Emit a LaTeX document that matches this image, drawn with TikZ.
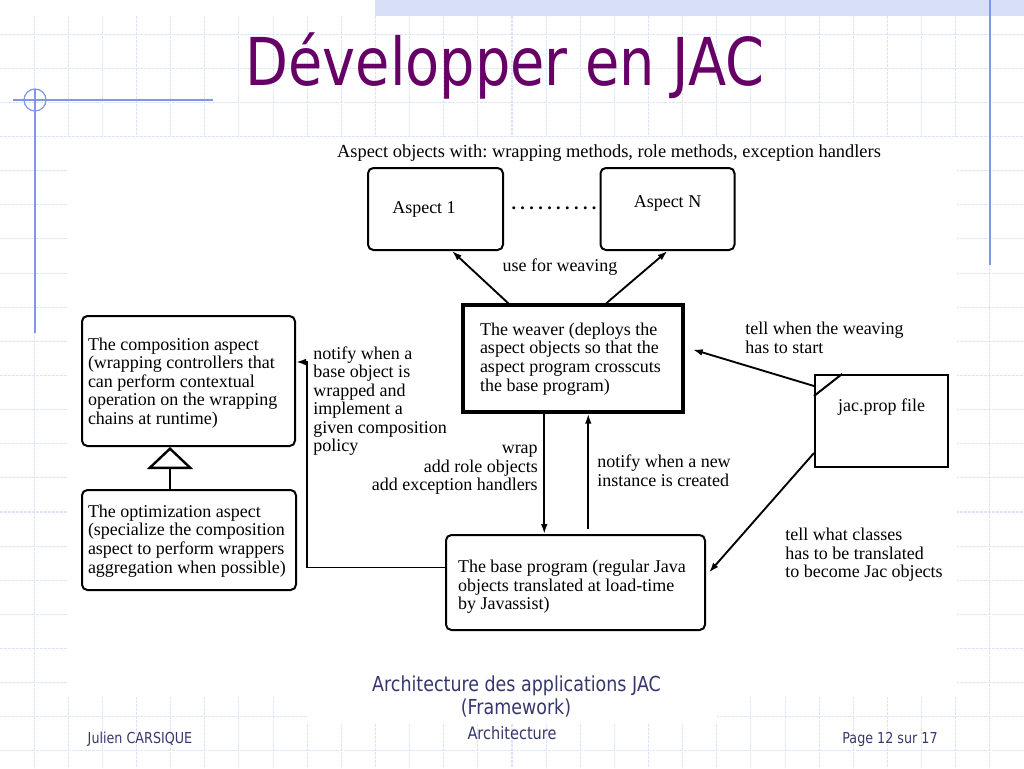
\documentclass[tikz,border=0pt]{standalone}
\usepackage{fontspec}
\setmainfont{Liberation Serif}
\newfontfamily\tahoma{DejaVu Sans}
\usetikzlibrary{arrows.meta,calc}
\definecolor{gridc}{RGB}{222,227,247}
\definecolor{bluel}{RGB}{130,150,232}
\definecolor{bandc}{RGB}{216,224,248}
\definecolor{titlec}{RGB}{102,0,102}
\definecolor{footc}{RGB}{55,55,110}
\newlength\pxu
\setlength\pxu{0.75pt}
\frenchspacing
\newcommand\tah[1]{{\tahoma\scalebox{0.845}[1]{#1}}}
\newcommand\lbox[2]{\makebox[#1][l]{\begin{tabular}{@{}l@{}}#2\end{tabular}}}
\newcommand\dropbox[2]{\raisebox{-#1}[\height][\depth]{#2}}
\newcommand\dotrow{.\kern4.4\pxu.\kern4.4\pxu.\kern4.4\pxu.\kern4.4\pxu.\kern4.4\pxu.\kern4.4\pxu.\kern4.4\pxu.\kern4.4\pxu.\kern4.4\pxu.}
\tikzset{
  dtext/.style={font=\fontsize{13.5}{13.9}\selectfont, inner sep=0pt, align=left},
  rbox/.style={draw, line width=1.5pt, rounded corners=4pt, inner sep=0pt, dtext},
  wbox/.style={draw, line width=2.6pt, inner sep=0pt, dtext},
  fbox/.style={draw, line width=1.5pt, inner sep=0pt, dtext},
  arr/.style={line width=1.4pt, -{Latex[length=7.5pt,width=5pt]}},
  gridline/.style={gridc, line width=0.8pt, dash pattern=on 2pt off 1pt},
  blueline/.style={bluel, line width=0.9pt},
  foot/.style={footc, inner sep=0pt, anchor=base},
}
\begin{document}
\begin{tikzpicture}[x=0.75pt,y=-0.75pt]
% background
\fill[white] (0,0) rectangle (1024,768);
\useasboundingbox (0,0) rectangle (1024,768);
\fill[bandc] (375,0) rectangle (1024,16);
\foreach \k in {1,...,29} \draw[gridline] ({\k*34.133},16) -- ({\k*34.133},768);
\foreach \k in {1,...,22} \draw[gridline] (0,{\k*34.133}) -- (1024,{\k*34.133});
\fill[white] (67,137) rectangle (957,697);
\fill[white] (307,645) rectangle (717,723);
\draw[blueline] (13,100) -- (213,100);
\draw[blueline] (35,89) -- (35,333);
\draw[blueline] (35,100) circle (11);
\draw[blueline] (990,0) -- (990,265);

% title
\node[titlec, inner sep=0pt, anchor=base, font=\fontsize{49.5}{55}\selectfont] (title) at (505,85) {\tah{Développer en JAC}};

% footer
\node[foot, font=\fontsize{15.5}{17}\selectfont] (f1) at (516.5,691) {\tah{Architecture des applications JAC}};
\node[foot, font=\fontsize{15.5}{17}\selectfont] (f2) at (516,714) {\tah{(Framework)}};
\node[foot, font=\fontsize{12.9}{15}\selectfont] (f3) at (512,739) {\tah{Architecture}};
\node[foot, font=\fontsize{11.3}{13}\selectfont] (f4) at (140,743) {\tah{Julien CARSIQUE}};
\node[foot, font=\fontsize{11.3}{13}\selectfont] (f5) at (890,743) {\tah{Page 12 sur 17}};

% diagram
\node[dtext, font=\fontsize{13.8}{14}\selectfont] (top) at (609,153) {Aspect objects with: wrapping methods, role methods, exception handlers};
\node[rbox, minimum width=135*\pxu, minimum height=82*\pxu,
      label={[dtext, xshift=-11.5*\pxu, name=a1t]center:Aspect 1}] (a1) at (435.5,209) {};
\node[rbox, minimum width=134*\pxu, minimum height=82*\pxu,
      label={[dtext, yshift=6*\pxu, name=ant]center:Aspect N}] (an) at (667.5,209) {};
\node[dtext, anchor=base, font=\fontsize{13.6}{13.9}\selectfont\bfseries] (dots) at (554,209) {\dotrow};

\node[wbox, minimum width=220*\pxu, minimum height=107*\pxu] (weaver) at (573,358.5)
  {\dropbox{1\pxu}{\lbox{186\pxu}{The weaver (deploys the\\aspect objects so that the\\aspect program crosscuts\\the base program)}}};

\node[rbox, minimum width=213*\pxu, minimum height=130*\pxu] (comp) at (188.5,381)
  {\dropbox{2.5\pxu}{\lbox{201\pxu}{The composition aspect\\(wrapping controllers that\\can perform contextual\\operation on the wrapping\\chains at runtime)}}};
\node[rbox, minimum width=214*\pxu, minimum height=100*\pxu] (opt) at (189,540)
  {\dropbox{1.5\pxu}{\lbox{202\pxu}{The optimization aspect\\(specialize the composition\\aspect to perform wrappers\\aggregation when possible)}}};
\node[rbox, minimum width=259*\pxu, minimum height=95*\pxu] (base) at (575.5,582.5)
  {\dropbox{5\pxu}{\lbox{235\pxu}{The base program (regular Java\\objects translated at load-time\\by Javassist)}}};
\node[fbox, minimum width=133*\pxu, minimum height=92*\pxu,
      label={[dtext, yshift=14*\pxu, name=jact]center:jac.prop file}] (jac) at (881.5,421) {};
\draw[line width=1.5pt] ($(jac.north west)+(0,22)$) -- ($(jac.north west)+(28,0)$);

% connectors
\draw[arr] ($(weaver.north west)+(47,0)$) -- ($(a1.south)+(16.5,0)$);
\draw[arr] ($(weaver.north west)+(145,0)$) -- (an.south);
\node[dtext] (lweave) at (560,267) {use for weaving};

\coordinate (tri) at ($(comp.south)+(-18.5,0)$);
\draw[line width=1.4pt, -{Triangle[open, length=16.5pt, width=34.5pt, line width=1.8pt]}] (opt.north -| tri) -- (tri);

\draw[arr] ($(base.west)+(0,-15)$) -| ($(comp.east)+(11,-19)$) -- ($(comp.east)+(0,-19)$);
\node[dtext, anchor=west] (lnotify) at (313,401)
  {notify when a\\base object is\\wrapped and\\implement a\\given composition\\policy};

\coordinate (wd) at ($(weaver.south west)+(83,0)$);
\coordinate (wu) at ($(weaver.south west)+(127,0)$);
\draw[arr] (wd) -- (wd |- base.north);
\draw[arr] ($(wu |- base.north)+(0,-5)$) -- (wu);
\node[dtext, anchor=east, align=right] (lwrap) at (538,470)
  {wrap\\add role objects\\add exception handlers};
\node[dtext, anchor=west] (lnew) at (597,471)
  {notify when a new\\instance is created};

\draw[arr] ($(jac.north west)+(0,12)$) -- ($(weaver.east)+(8,-9)$);
\node[dtext, anchor=west] (lstart) at (745,338)
  {tell when the weaving\\has to start};
\draw[arr] ($(jac.south west)+(0,-15)$) -- ($(base.east)+(3,-10)$);
\node[dtext, anchor=west] (lclass) at (785,555)
  {tell what classes\\has to be translated\\to become Jac objects};
\end{tikzpicture}
\end{document}
